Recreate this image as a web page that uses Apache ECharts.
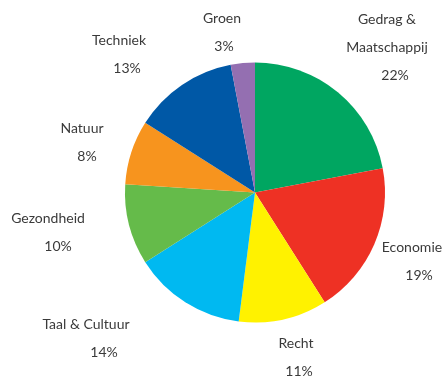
<!DOCTYPE html>
<html><head><meta charset="utf-8">
<script src="https://cdn.jsdelivr.net/npm/echarts@6/dist/echarts.min.js"></script>
<style>html,body{margin:0;padding:0;background:#fff}#c{width:444px;height:376px}</style>
</head><body><div id="c"></div>
<script>
const categories = ['Gedrag &\nMaatschappij','Economie','Recht','Taal & Cultuur','Gezondheid','Natuur','Techniek','Groen'];
const values = [22,19,11,14,10,8,13,3];
const colors = ['#00a661','#ee3124','#fff200','#00b9f1','#65bb4a','#f7941e','#0058a6','#946fb1'];
// label anchor centres and percent-line shift (layout only)
const labelPos = [[387,47],[412,261],[296,357],[86,338],[48,232],[82,142],[119,54],[222,32]];
const pctShift = [8,7,3,18,10,5,8,2];

const textBase = {fontFamily:'Lato',fontSize:14,color:'#3a3a3a',lineHeight:28};
const chart = echarts.init(document.getElementById('c'));
chart.setOption({
  animation:false,
  series:[{
    type:'pie',
    center:[255,192.5],
    radius:[0,130],
    startAngle:90,
    clockwise:true,
    data:categories.map((n,i)=>({
      name:n,value:values[i],itemStyle:{color:colors[i]},
      label:{rich:{n:Object.assign({},textBase),p:Object.assign({padding:[0,0,0,2*pctShift[i]]},textBase)}}
    })),
    label:{
      show:true,position:'outside',overflow:'none',
      formatter:p=>'{n|'+p.name+'}\n{p|'+p.value+'%}',
      fontFamily:'Lato',fontSize:14,color:'#3a3a3a',lineHeight:28,align:'center'
    },
    labelLine:{show:false},
    labelLayout:p=>({x:labelPos[p.dataIndex][0],y:labelPos[p.dataIndex][1],align:'center',verticalAlign:'middle',width:200}),
    itemStyle:{borderWidth:0},
    emphasis:{disabled:true}
  }]
});
</script></body></html>
